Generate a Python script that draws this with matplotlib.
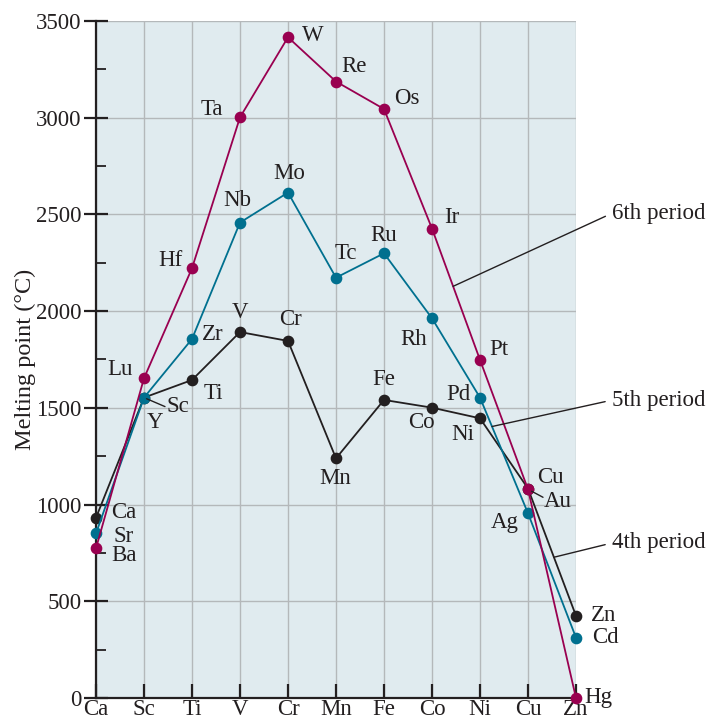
import numpy as np
import matplotlib
matplotlib.use("Agg")
import matplotlib.pyplot as plt

plt.rcParams['font.family'] = ['Liberation Serif', 'DejaVu Serif']

# columns of the chart (4th period element names on the axis)
columns = ['Ca', 'Sc', 'Ti', 'V', 'Cr', 'Mn', 'Fe', 'Co', 'Ni', 'Cu', 'Zn']

# melting points (°C)
period4_names = ['Ca', 'Sc', 'Ti', 'V', 'Cr', 'Mn', 'Fe', 'Co', 'Ni', 'Cu', 'Zn']
period4_mp = [932, 1553, 1644, 1892, 1846, 1239, 1541, 1501, 1446, 1083, 425]

period5_names = ['Sr', 'Y', 'Zr', 'Nb', 'Mo', 'Tc', 'Ru', 'Rh', 'Pd', 'Ag', 'Cd']
period5_mp = [851, 1553, 1856, 2458, 2613, 2173, 2299, 1963, 1553, 955, 312]

period6_names = ['Ba', 'Lu', 'Hf', 'Ta', 'W', 'Re', 'Os', 'Ir', 'Pt', 'Au', 'Hg']
period6_mp = [774, 1653, 2222, 3002, 3416, 3187, 3045, 2427, 1748, 1079, 0]

# label offsets in pixels (dx, dy) for each point
period4_off = [(28, 5), (34, -9), (21, -13), (0, 20), (2, 21), (-1, -20),
               (0, 20), (-11, -15), (-17, -16), (22, 11), (28, 0)]
period5_off = [(28, -3), (11, -25), (21, 4), (-3, 22), (1, 19), (10, 24),
               (0, 18), (-18, -21), (-22, 3), (-23, -9), (29, 0)]
period6_off = [(28, -7), (-24, 9), (-22, 8), (-28, 8), (25, 2), (18, 15),
               (23, 11), (20, 11), (19, 10), (30, -12), (22, 0)]

c4 = '#231f20'
c5 = '#00708f'
c6 = '#990050'
bg = '#e0ebef'
grid_c = '#b4b8ba'
fs = 16.5

fig = plt.figure(figsize=(7.1, 7.21), dpi=100)
ax = fig.add_axes([96 / 710, 1 - 698 / 721, 480 / 710, 677 / 721])
ax.set_facecolor(bg)

x = np.arange(len(columns))

series = [
    (period4_mp, period4_names, period4_off, c4),
    (period5_mp, period5_names, period5_off, c5),
    (period6_mp, period6_names, period6_off, c6),
]
for vals, names, offs, col in series:
    ax.plot(x, vals, color=col, lw=1.3, marker='o', ms=7.4, clip_on=False, zorder=3)

for vals, names, offs, col in series:
    for xi, v, name, (dx, dy) in zip(x, vals, names, offs):
        ax.annotate(name, (xi, v), xytext=(dx, dy), textcoords='offset pixels',
                    ha='center', va='center', fontsize=fs, color='#231f20',
                    annotation_clip=False, zorder=5)

# leader lines for Sc and Au labels
ax.annotate('', xy=(1, period4_mp[1]), xytext=(21, -9), textcoords='offset pixels',
            arrowprops=dict(arrowstyle='-', color='#231f20', lw=1, shrinkA=0, shrinkB=2))
ax.annotate('', xy=(9, period6_mp[9]), xytext=(15, -8), textcoords='offset pixels',
            arrowprops=dict(arrowstyle='-', color='#231f20', lw=1, shrinkA=0, shrinkB=3))

# period callouts
callouts = [
    ('6th period', 7.44, period6_mp, 0.716),
    ('5th period', 8.25, period5_mp, 0.440),
    ('4th period', 9.54, period4_mp, 0.229),
]
for label, xp, vals, ty in callouts:
    yp = np.interp(xp, x, vals)
    ax.annotate(label, xy=(xp, yp), xytext=(1.075, ty), textcoords='axes fraction',
                ha='left', va='center', fontsize=fs, color='#231f20',
                annotation_clip=False,
                arrowprops=dict(arrowstyle='-', color='#231f20', lw=1,
                                relpos=(0, 0.5), shrinkA=3, shrinkB=0))

ax.set_xlim(0, 10)
ax.set_ylim(0, 3500)
ax.set_xticks(x)
ax.set_xticklabels(columns)
ax.set_yticks(np.arange(0, 3501, 500))
ax.set_yticks(np.arange(250, 3500, 500), minor=True)

ax.grid(True, which='major', color=grid_c, lw=1, zorder=0)
ax.set_axisbelow(True)

for s in ['top', 'right']:
    ax.spines[s].set_visible(False)
for s in ['left', 'bottom']:
    ax.spines[s].set_linewidth(1.6)
    ax.spines[s].set_color('#231f20')

ax.tick_params(axis='y', which='major', direction='inout', length=17, width=1.6,
               labelsize=fs, pad=2, colors='#231f20')
ax.tick_params(axis='y', which='minor', direction='in', length=7, width=1.3,
               colors='#231f20')
ax.tick_params(axis='x', which='major', direction='in', length=10, width=1.6,
               labelsize=fs, pad=1, colors='#231f20')

ax.set_ylabel('Melting point (°C)', fontsize=17.5, color='#231f20', labelpad=0)

fig.savefig('out.png', dpi=100)
